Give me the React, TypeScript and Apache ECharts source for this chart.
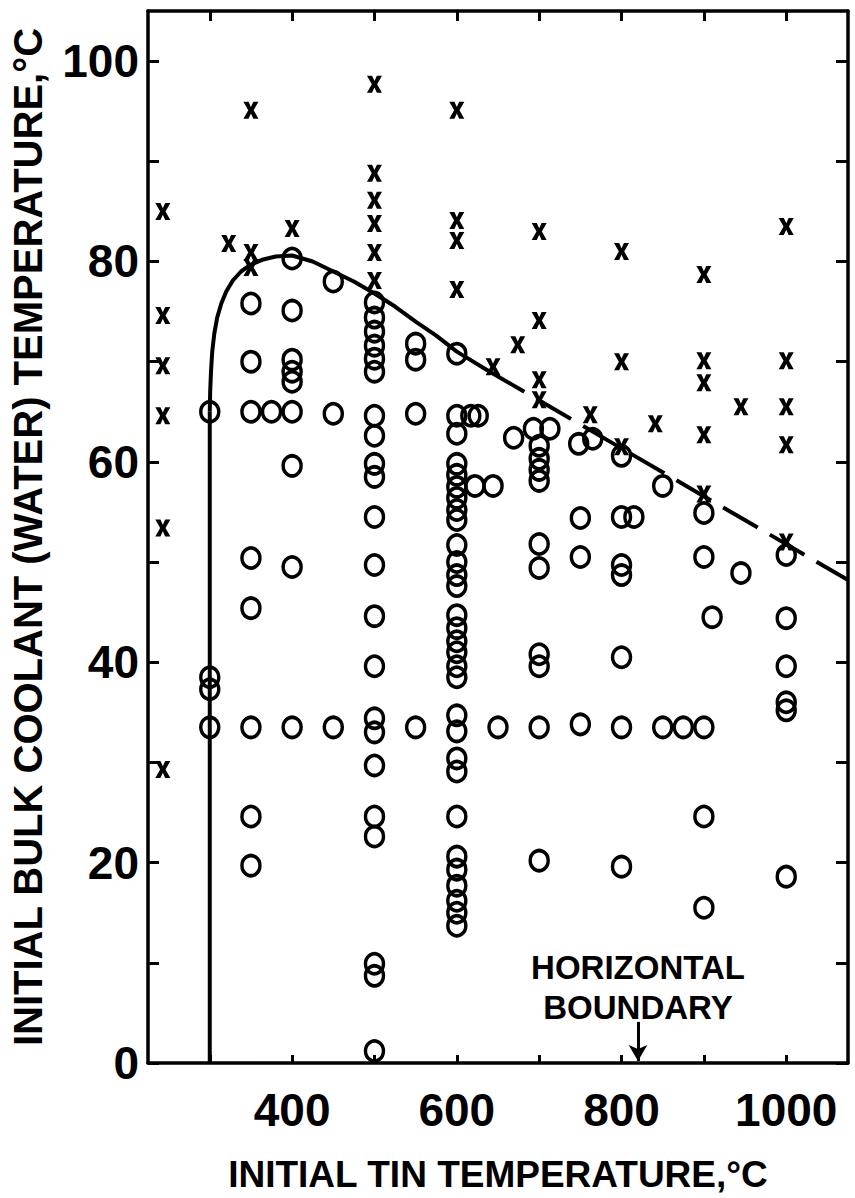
import React, { useEffect, useRef } from "react";
import * as echarts from "echarts";

// Axis ticks / labels
const xTickValues = [300, 400, 500, 600, 700, 800, 900, 1000];
const xLabelValues = [400, 600, 800, 1000];
const yTickValues = [0, 10, 20, 30, 40, 50, 60, 70, 80, 90, 100];
const yLabelValues = [0, 20, 40, 60, 80, 100];

// Open circles (tin temperature, coolant temperature)
const circlePoints: [number, number][] = [
  [300, 65], [300, 38.5], [300, 37.3], [300, 33.5],
  [350, 75.8], [350, 70], [350, 65], [350, 50.4], [350, 45.4], [350, 33.5], [350, 24.6], [350, 19.7],
  [375, 65],
  [400, 80.3], [400, 75.1], [400, 70.2], [400, 69], [400, 68], [400, 65], [400, 59.6], [400, 49.5], [400, 33.5],
  [450, 78], [450, 64.8], [450, 33.5],
  [500, 75.9], [500, 74.4], [500, 73], [500, 71.6], [500, 70.3], [500, 69], [500, 64.6], [500, 62.6],
  [500, 59.8], [500, 58.5], [500, 54.5], [500, 49.7], [500, 44.6], [500, 39.6], [500, 34.4], [500, 33],
  [500, 29.7], [500, 24.6], [500, 22.6], [500, 9.9], [500, 8.7], [500, 1.2],
  [550, 71.8], [550, 70.2], [550, 64.8], [550, 33.5],
  [600, 70.8], [600, 64.6], [600, 62.8], [600, 59.8], [600, 58.7], [600, 57.5], [600, 56.4], [600, 55.2],
  [600, 54.2], [600, 51.7], [600, 50], [600, 48.7], [600, 47.6], [600, 44.7], [600, 43.4], [600, 42.1],
  [600, 41], [600, 39.6], [600, 38.5], [600, 34.7], [600, 33.1], [600, 30.4], [600, 29.1], [600, 24.6],
  [600, 20.6], [600, 19.3], [600, 17.7], [600, 16.2], [600, 15], [600, 13.7],
  [617, 64.6], [626, 64.6], [622, 57.6], [644, 57.6], [650, 33.5],
  [669, 62.4], [693, 63.3], [713, 63.3],
  [700, 61.6], [700, 60.3], [700, 59.2], [700, 58.1], [700, 51.8], [700, 49.4], [700, 40.8], [700, 39.6],
  [700, 33.5], [700, 20.2],
  [748, 61.8], [750, 54.4], [750, 50.5], [750, 33.8], [765, 62.3],
  [800, 60.6], [800, 54.5], [800, 49.7], [800, 48.7], [800, 40.5], [800, 33.5], [800, 19.6],
  [815, 54.5],
  [850, 57.6], [850, 33.5], [875, 33.5],
  [900, 54.9], [900, 50.5], [900, 33.5], [900, 24.6], [900, 15.5],
  [910, 44.5], [945, 48.9],
  [1000, 50.7], [1000, 44.4], [1000, 39.6], [1000, 36], [1000, 35.2], [1000, 18.6],
];

// Crosses
const crossPoints: [number, number][] = [
  [243, 85], [243, 74.6], [243, 69.6], [243, 64.6], [243, 53.4], [243, 29.3],
  [323, 81.8],
  [350, 95.1], [350, 80.9], [350, 79.4],
  [400, 83.3],
  [500, 97.7], [500, 88.8], [500, 86.1], [500, 83.8], [500, 80.9], [500, 78.1],
  [600, 95.1], [600, 84.1], [600, 82.1], [600, 77.2],
  [644, 69.5], [674, 71.7],
  [700, 83], [700, 74.1], [700, 68.2], [700, 66.2],
  [762, 64.7],
  [800, 81], [800, 70], [800, 61.5],
  [841, 63.8],
  [900, 78.7], [900, 70.1], [900, 67.9], [900, 62.7], [900, 56.8],
  [945, 65.5],
  [1000, 83.5], [1000, 70.1], [1000, 65.5], [1000, 61.7], [1000, 52],
];

// Boundary curve
const verticalBoundary: [number, number][] = [[300, 0], [300, 65]];
const solidBoundary: [number, number][] = [
  [300, 65], [300.5, 67], [301.5, 69], [303, 71], [305.5, 72.8], [309, 74.4], [314, 75.8],
  [320, 77], [328, 78.1], [338, 79], [350, 79.7], [365, 80.2], [380, 80.5], [400, 80.6],
  [425, 80], [450, 79], [475, 78], [500, 76.8], [525, 75.5], [550, 74], [575, 72.6],
  [600, 71], [640, 69],
];
const dashedBoundary: [number, number][] = [[640, 69], [1075, 48.2]];
const horizontalBoundaryX = 820;

const FONT = '"Liberation Sans", Arial, sans-serif';
const CROSS = "path://M0,0 L3.4,0 L5,3.4 L6.6,0 L10,0 L6.8,5.5 L10,11 L6.6,11 L5,7.6 L3.4,11 L0,11 L3.2,5.5 Z";

export default function App() {
  const ref = useRef<HTMLDivElement>(null);
  useEffect(() => {
    if (!ref.current) return;
    const chart = echarts.init(ref.current, null, { renderer: "svg" });
    const axisLineStyle = { color: "#000", width: 3.5 };
    chart.setOption({
      animation: false,
      backgroundColor: "#fff",
      grid: { left: 146, top: 11, width: 702, height: 1057, containLabel: false },
      xAxis: [
        {
          type: "value", min: 225, max: 1075, position: "bottom",
          axisLine: { show: true, onZero: false, lineStyle: axisLineStyle },
          axisTick: { show: true, inside: true, length: 8, customValues: xTickValues, lineStyle: { color: "#000", width: 3 } },
          axisLabel: {
            customValues: xLabelValues, color: "#000", fontSize: 46, fontWeight: "bold", fontFamily: FONT, margin: 24,
            formatter: (v: number) => String(v),
          },
          splitLine: { show: false },
          name: "INITIAL TIN TEMPERATURE,°C", nameLocation: "middle", nameGap: 93,
          nameTextStyle: { color: "#000", fontSize: 37, fontWeight: "bold", fontFamily: FONT },
        },
        {
          type: "value", min: 225, max: 1075, position: "top",
          axisLine: { show: true, onZero: false, lineStyle: axisLineStyle },
          axisTick: { show: true, inside: true, length: 10, customValues: xTickValues, lineStyle: { color: "#000", width: 3 } },
          axisLabel: { show: false },
          splitLine: { show: false },
        },
      ],
      yAxis: [
        {
          type: "value", min: 0, max: 105, position: "left",
          axisLine: { show: true, onZero: false, lineStyle: axisLineStyle },
          axisTick: { show: true, inside: true, length: 11, customValues: yTickValues, lineStyle: { color: "#000", width: 3 } },
          axisLabel: {
            customValues: yLabelValues, color: "#000", fontSize: 46, fontWeight: "bold", fontFamily: FONT, margin: 9,
            formatter: (v: number) => String(v),
          },
          splitLine: { show: false },
          name: "INITIAL BULK COOLANT (WATER) TEMPERATURE,°C", nameLocation: "middle", nameGap: 100,
          nameTextStyle: { color: "#000", fontSize: 40, fontWeight: "bold", fontFamily: FONT },
        },
        {
          type: "value", min: 0, max: 105, position: "right",
          axisLine: { show: true, onZero: false, lineStyle: axisLineStyle },
          axisTick: { show: true, inside: true, length: 12, customValues: yTickValues, lineStyle: { color: "#000", width: 3 } },
          axisLabel: { show: false },
          splitLine: { show: false },
        },
      ],
      series: [
        {
          type: "line", data: verticalBoundary, symbol: "none",
          lineStyle: { color: "#000", width: 4 }, z: 2,
        },
        {
          type: "line", data: solidBoundary, symbol: "none",
          lineStyle: { color: "#000", width: 4 }, z: 2,
        },
        {
          type: "line", data: dashedBoundary, symbol: "none",
          lineStyle: { color: "#000", width: 4, type: [40, 14] }, z: 2,
          markLine: {
            silent: true, symbol: ["none", "arrow"], symbolSize: [14, 16],
            label: { show: false },
            lineStyle: { color: "#000", width: 3, type: "solid" },
            data: [[{ coord: [horizontalBoundaryX, 4.1] }, { coord: [horizontalBoundaryX, 0.2] }]],
          },
        },
        {
          type: "scatter", data: circlePoints, symbol: "circle", symbolSize: [18, 20],
          itemStyle: { color: "rgba(0,0,0,0)", borderColor: "#000", borderWidth: 3.6, opacity: 1 }, z: 3,
        },
        {
          type: "scatter", data: crossPoints, symbol: CROSS, symbolSize: [15, 17],
          itemStyle: { color: "#000", opacity: 1 }, z: 3,
        },
      ],
      graphic: [
        {
          type: "text", x: 638, y: 987,
          style: {
            text: "HORIZONTAL\nBOUNDARY", fill: "#000", textAlign: "center", textVerticalAlign: "middle",
            font: `bold 33px ${FONT}`, lineHeight: 40,
          },
        },
      ],
    });
    return () => chart.dispose();
  }, []);
  return <div ref={ref} style={{ position: "fixed", left: 0, top: 0, width: 855, height: 1198 }} />;
}
